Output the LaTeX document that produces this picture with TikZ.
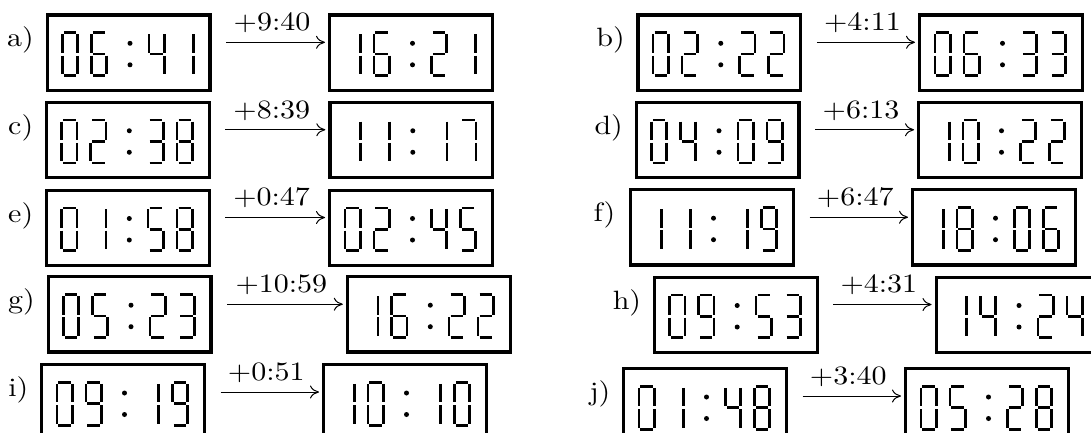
\documentclass[tikz,border=0pt]{standalone}
\usetikzlibrary{arrows.meta}
\tikzset{
  clockbox/.style={draw, line width=3.2pt, minimum width=162.8pt, minimum height=75.2pt, inner sep=0pt, outer sep=1.6pt},
  seg/.style={line width=2.6pt, line cap=butt},
  arr/.style={line width=1pt, -{Computer Modern Rightarrow[length=9pt,width=13pt]}, shorten <=14.5pt, shorten >=3pt},
  txt/.style={font=\fontsize{10}{12}\selectfont, xscale=3.0, yscale=2.65, inner sep=0pt},
  steplbl/.style={txt, midway, anchor=base, xshift=0.75pt, yshift=4.35pt},
  rowlbl/.style={txt, anchor=base east}
}
\newcommand{\sgA}{\draw[seg] (2.8,1.3) -- (15.2,1.3);}
\newcommand{\sgG}{\draw[seg] (2.8,22.75) -- (15.2,22.75);}
\newcommand{\sgD}{\draw[seg] (2.8,44.2) -- (15.2,44.2);}
\newcommand{\sgF}{\draw[seg] (1.3,2.8) -- (1.3,21.3);}
\newcommand{\sgE}{\draw[seg] (1.3,24.2) -- (1.3,42.7);}
\newcommand{\sgB}{\draw[seg] (16.7,2.8) -- (16.7,21.3);}
\newcommand{\sgC}{\draw[seg] (16.7,24.2) -- (16.7,42.7);}
\newcommand{\sdigit}[3]{\begin{scope}[shift={(#1,#2)}]\ifcase#3\relax
  \sgA\sgB\sgC\sgD\sgE\sgF\or
  \sgB\sgC\or
  \sgA\sgB\sgG\sgE\sgD\or
  \sgA\sgB\sgG\sgC\sgD\or
  \sgF\sgG\sgB\sgC\or
  \sgA\sgF\sgG\sgC\sgD\or
  \sgA\sgF\sgG\sgE\sgC\sgD\or
  \sgA\sgB\sgC\or
  \sgA\sgB\sgC\sgD\sgE\sgF\sgG\or
  \sgA\sgB\sgC\sgD\sgF\sgG\fi\end{scope}}
% name, left, top, four digits
\newcommand{\clockface}[7]{%
  \node[clockbox] (#1) at (#2+83,#3+39.2) {};
  \sdigit{#2+15.5}{#3+18}{#4}
  \sdigit{#2+44.5}{#3+18}{#5}
  \sdigit{#2+102}{#3+18}{#6}
  \sdigit{#2+131}{#3+18}{#7}
  \fill (#2+84.5,#3+30) circle[radius=2.5pt];
  \fill (#2+84.5,#3+51.5) circle[radius=2.5pt];
}
\begin{document}
\begin{tikzpicture}[x=1pt,y=-1pt]
\useasboundingbox (0,0) rectangle (1091,432);
% a
\clockface{a1}{45.5}{13.3}0641
\clockface{a2}{328}{13.3}1621
\node[rowlbl] (la) at (34.5,46.8) {a)};
\draw[arr] ([yshift=10.2pt]a1.east) -- ([yshift=10.2pt]a2.west) node[steplbl] (sa) {+9:40};
% b
\clockface{b1}{636.3}{13.3}0222
\clockface{b2}{918}{13.3}0633
\node[rowlbl] (lb) at (625.3,46.8) {b)};
\draw[arr] ([yshift=10.2pt]b1.east) -- ([yshift=10.2pt]b2.west) node[steplbl] (sb) {+4:11};
% c
\clockface{c1}{44.8}{100.75}0238
\clockface{c2}{328.3}{100.75}1117
\node[rowlbl] (lc) at (33.8,134.25) {c)};
\draw[arr] ([yshift=10.2pt]c1.east) -- ([yshift=10.2pt]c2.west) node[steplbl] (sc) {+8:39};
% d
\clockface{d1}{634.5}{100.75}0409
\clockface{d2}{917}{100.75}1022
\node[rowlbl] (ld) at (623.5,134.25) {d)};
\draw[arr] ([yshift=10.2pt]d1.east) -- ([yshift=10.2pt]d2.west) node[steplbl] (sd) {+6:13};
% e
\clockface{e1}{44.8}{188.5}0158
\clockface{e2}{328}{188.5}0245
\node[rowlbl] (le) at (33.8,222) {e)};
\draw[arr] ([yshift=10.2pt]e1.east) -- ([yshift=10.2pt]e2.west) node[steplbl] (se) {+0:47};
% f
\clockface{f1}{629}{188.2}1119
\clockface{f2}{911}{188.2}1806
\node[rowlbl] (lf) at (616,221.7) {f)};
\draw[arr] ([yshift=10.2pt]f1.east) -- ([yshift=10.2pt]f2.west) node[steplbl] (sf) {+6:47};
% g
\clockface{g1}{46.5}{275.2}0523
\clockface{g2}{345.8}{275.2}1622
\node[rowlbl] (lg) at (35.5,308.7) {g)};
\draw[arr] ([yshift=10.2pt]g1.east) -- ([yshift=10.2pt]g2.west) node[steplbl] (sg) {+10:59};
% h
\clockface{h1}{652.7}{275.5}0953
\clockface{h2}{934.5}{275.5}1424
\node[rowlbl] (lh) at (641.7,309) {h)};
\draw[arr] ([yshift=10.2pt]h1.east) -- ([yshift=10.2pt]h2.west) node[steplbl] (sh) {+4:31};
% i
\clockface{i1}{40}{363}0919
\clockface{i2}{322}{363}1010
\node[rowlbl] (li) at (29,396.5) {i)};
\draw[arr] ([yshift=10.2pt]i1.east) -- ([yshift=10.2pt]i2.west) node[steplbl] (si) {+0:51};
% j
\clockface{j1}{622}{367}0148
\clockface{j2}{904}{367}0528
\node[rowlbl] (lj) at (611,400.5) {j)};
\draw[arr] ([yshift=10.2pt]j1.east) -- ([yshift=10.2pt]j2.west) node[steplbl] (sj) {+3:40};
\end{tikzpicture}
\end{document}
